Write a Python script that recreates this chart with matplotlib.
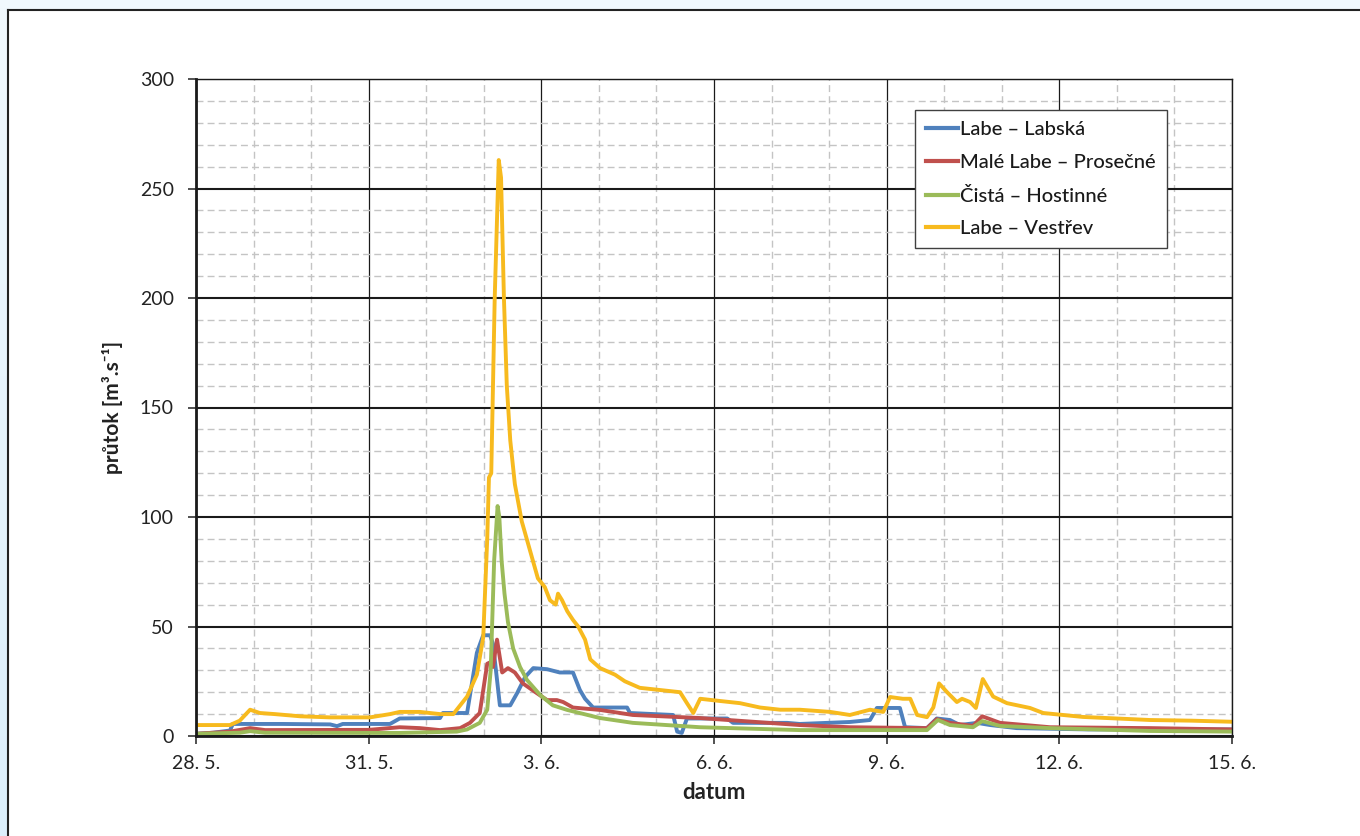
import numpy as np
import matplotlib
matplotlib.use("Agg")
import matplotlib.pyplot as plt
from matplotlib.lines import Line2D
from matplotlib.patches import Rectangle
from matplotlib.ticker import MultipleLocator
from matplotlib.colors import LinearSegmentedColormap

plt.rcParams['font.family'] = ['Lato', 'DejaVu Sans']

# days since 28. 5.
vestrev_t = [0, 0.59, 0.76, 0.94, 1.11, 1.37, 1.81, 2.33, 3.02, 3.37, 3.54, 3.89, 4.24, 4.47, 4.59,
             4.71, 4.88, 4.99, 5.06, 5.09, 5.13, 5.19, 5.26, 5.30, 5.35, 5.40, 5.46, 5.54, 5.66, 5.80,
             5.94, 6.06, 6.15, 6.25, 6.29, 6.36, 6.45, 6.55, 6.64, 6.76, 6.85, 7.02, 7.28, 7.45, 7.71,
             8.06, 8.41, 8.53, 8.64, 8.76, 9.10, 9.45, 9.80, 10.15, 10.49, 11.02, 11.36, 11.71, 11.94,
             12.06, 12.28, 12.41, 12.53, 12.70, 12.81, 12.91, 13.05, 13.22, 13.31, 13.45, 13.55, 13.67,
             13.85, 14.09, 14.49, 14.72, 15.41, 16.58, 17.3, 18.0]
vestrev_q = [5, 5, 7, 12, 10.5, 10, 9, 8.5, 8.5, 10, 11, 11, 10, 10, 14,
             18, 28, 45, 90, 118, 120, 200, 263, 255, 200, 160, 135, 115, 98, 85,
             72, 68, 62, 60, 65, 62, 57, 53, 50, 44, 35, 31, 28, 25, 22,
             21, 20, 15, 10.5, 17, 16, 15, 13, 12, 12, 11, 9.6, 12, 11,
             17.8, 17, 17, 9.6, 8.6, 13, 24, 20, 15.5, 17, 15.5, 12.8, 26,
             18, 15, 12.8, 10.5, 8.7, 7.3, 7, 6.5]

labska_t = [0, 0.30, 0.59, 0.64, 1.5, 2.33, 2.45, 2.55, 3.37, 3.54, 4.24, 4.29, 4.71, 4.88, 4.99,
            5.11, 5.16, 5.28, 5.46, 5.58, 5.72, 5.86, 6.10, 6.32, 6.55, 6.67, 6.76, 6.90, 7.49, 7.54,
            8.29, 8.36, 8.44, 8.53, 9.23, 9.33, 10.27, 10.49, 11.36, 11.71, 11.83, 12.23, 12.32, 12.70,
            12.87, 13.10, 13.27, 13.57, 13.80, 14.26, 15.5, 18.0]
labska_q = [1, 1.5, 2.5, 5.5, 5.5, 5.3, 4.5, 5.5, 5.5, 8, 8.2, 10.5, 10.5, 38, 46,
            46, 42, 14, 14, 19.6, 27, 31, 30.5, 29, 29, 21, 17, 13, 13, 10.5,
            9.6, 2, 1.4, 8, 8, 6, 6, 5.5, 6.4, 7.3, 12.8, 12.8, 4, 3.6,
            8, 7.3, 5, 6, 5, 3.6, 3, 3]

prosecne_t = [0, 0.59, 0.94, 1.2, 3.0, 3.54, 3.89, 4.24, 4.59, 4.76, 4.93, 5.06, 5.14, 5.16, 5.23,
              5.32, 5.42, 5.54, 5.68, 5.92, 6.10, 6.27, 6.38, 6.55, 7.02, 7.59, 8.76, 10.49, 11.36,
              12.70, 12.87, 13.10, 13.50, 13.66, 13.97, 14.84, 16.58, 18.0]
prosecne_q = [1, 2, 3.6, 2.7, 2.8, 4, 3.6, 2.7, 3.6, 6, 10.5, 33, 34, 31.5, 44,
              29, 31, 29, 24, 19.6, 16.4, 16.4, 15.5, 13, 11.9, 9.6, 8.2, 5, 4,
              3.6, 7.7, 6, 4.6, 9, 6, 4, 3.6, 3]

hostinne_t = [0, 0.76, 0.94, 1.2, 3.54, 4.53, 4.71, 4.93, 5.06, 5.12, 5.18, 5.24, 5.27, 5.31, 5.36,
              5.42, 5.51, 5.63, 5.75, 5.98, 6.20, 6.45, 7.02, 7.59, 8.76, 10.49, 12.70, 12.89, 13.10,
              13.50, 13.66, 13.97, 14.84, 16.58, 18.0]
hostinne_q = [1, 1.5, 2.2, 1.5, 1.4, 2, 3, 6, 12, 30, 80, 105, 100, 80, 65,
              52, 40, 31.5, 25.6, 18.7, 14, 11.9, 8.2, 6, 4, 2.7, 2.7, 7.3, 5,
              4, 6.8, 4.6, 3.6, 2.3, 2]

series_names = ["Labe – Labská", "Malé Labe – Prosečné", "Čistá – Hostinné", "Labe – Vestřev"]
series_colors = ["#4F81BD", "#C0504D", "#9BBB59", "#F7BA1E"]

x_tick_pos = [0, 3, 6, 9, 12, 15, 18]
x_tick_labels = ["28. 5.", "31. 5.", "3. 6.", "6. 6.", "9. 6.", "12. 6.", "15. 6."]
y_ticks = [0, 50, 100, 150, 200, 250, 300]

fig = plt.figure(figsize=(13.6, 8.36), dpi=100)

# background: pale blue gradient with white panel
bg = fig.add_axes([0, 0, 1, 1], zorder=-10)
grad = np.linspace(0, 1, 100).reshape(-1, 1)
cm = LinearSegmentedColormap.from_list("bg", ["#DCEFFB", "#F0F8FD"])
bg.imshow(grad, aspect='auto', cmap=cm, extent=[0, 1, 0, 1], origin='lower')
bg.add_patch(Rectangle((8 / 1360, -0.1), 1.2, 0.1 + 1 - 10 / 836, facecolor='white', edgecolor='none'))
bg.add_line(Line2D([8 / 1360, 8 / 1360], [0, 1 - 10 / 836], color='#222222', lw=1.5))
bg.add_line(Line2D([8 / 1360, 1], [1 - 10 / 836, 1 - 10 / 836], color='#222222', lw=1.5))
bg.set_xlim(0, 1)
bg.set_ylim(0, 1)
bg.axis('off')

ax = fig.add_axes([196 / 1360, 1 - 736 / 836, 1036 / 1360, 657 / 836])
ax.set_facecolor('none')

data = [(labska_t, labska_q), (prosecne_t, prosecne_q), (hostinne_t, hostinne_q), (vestrev_t, vestrev_q)]
for (t, q), name, c in zip(data, series_names, series_colors):
    ax.plot(t, q, color=c, lw=2.8, label=name, solid_joinstyle='round')

ax.set_xlim(0, 18)
ax.set_ylim(0, 300)
ax.set_xticks(x_tick_pos)
ax.set_xticklabels(x_tick_labels)
ax.set_yticks(y_ticks)
ax.xaxis.set_minor_locator(MultipleLocator(1))
ax.yaxis.set_minor_locator(MultipleLocator(10))

ax.grid(which='minor', color='#C4C4C4', linestyle=(0, (5, 3)), lw=1.0)
ax.grid(which='major', axis='y', color='#1A1A1A', lw=1.5)
ax.grid(which='major', axis='x', color='#1A1A1A', lw=0.9)
ax.set_axisbelow(True)

for s in ['top', 'right']:
    ax.spines[s].set_color('#1A1A1A')
    ax.spines[s].set_linewidth(1.0)
for s in ['left', 'bottom']:
    ax.spines[s].set_color('#1A1A1A')
    ax.spines[s].set_linewidth(2.0)

ax.tick_params(which='major', direction='out', length=6, width=1.2, colors='#333333',
               labelsize=14, labelcolor='#222222')
ax.tick_params(which='minor', length=0)
ax.tick_params(axis='x', pad=8)
ax.tick_params(axis='y', pad=10)

ax.set_ylabel("průtok [m³.s⁻¹]", fontsize=15, fontweight='bold', color='#222222', labelpad=12)
ax.set_xlabel("datum", fontsize=16, fontweight='bold', color='#222222', labelpad=7)

leg = ax.legend(loc='upper left', bbox_to_anchor=(0.694, 0.953), fontsize=14.5,
                frameon=True, fancybox=False, edgecolor='#404040', framealpha=1,
                handlelength=1.6, handletextpad=0.1, borderpad=0.55, labelspacing=0.78,
                borderaxespad=0)
leg.get_frame().set_linewidth(1.0)
for txt in leg.get_texts():
    txt.set_color('#1A1A1A')
    txt.set_fontweight('medium')
for ln in leg.get_lines():
    ln.set_linewidth(3)

fig.savefig("out.png", dpi=100)
